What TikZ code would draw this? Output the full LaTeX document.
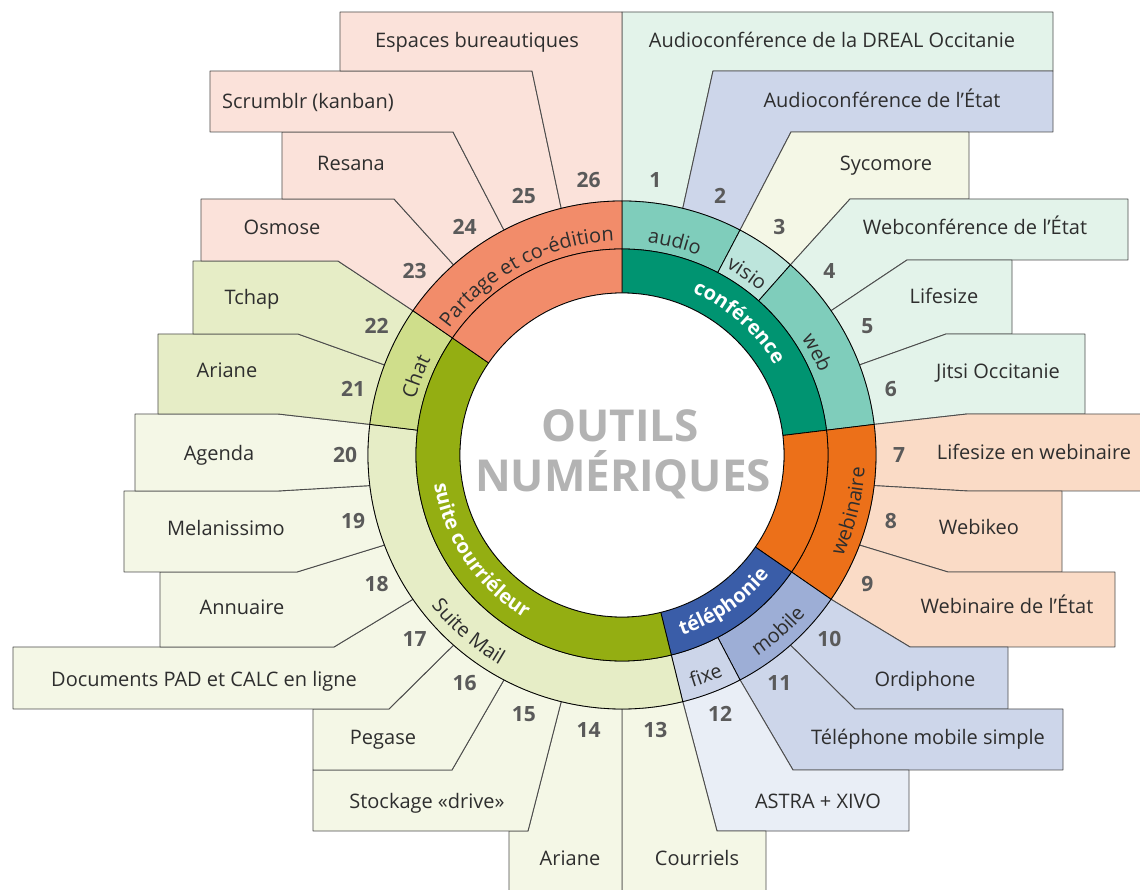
\documentclass[tikz,border=0pt]{standalone}
\usepackage{fontspec}
\setmainfont{Open Sans}
\usetikzlibrary{decorations.text}

% couleurs
\definecolor{txtdark}{HTML}{2E2E2E}
\definecolor{numgray}{HTML}{5A5A5A}
\definecolor{titlegray}{HTML}{B3B3B3}
\definecolor{mintbox}{HTML}{E3F3EA}
\definecolor{lavbox}{HTML}{CDD6EA}
\definecolor{creambox}{HTML}{F4F7E6}
\definecolor{peachbox}{HTML}{FADBC6}
\definecolor{palebluebox}{HTML}{E9EEF6}
\definecolor{greenbox}{HTML}{E6EDC6}
\definecolor{pinkbox}{HTML}{FBE2DA}
\definecolor{audiocol}{HTML}{7FCDBB}
\definecolor{visiocol}{HTML}{BDE5DC}
\definecolor{confcol}{HTML}{009471}
\definecolor{webinairecol}{HTML}{EC7019}
\definecolor{telcol}{HTML}{3A5DA8}
\definecolor{mobilecol}{HTML}{9DAED6}
\definecolor{fixecol}{HTML}{CCD5E9}
\definecolor{mailcol}{HTML}{E6EDC6}
\definecolor{chatcol}{HTML}{CFDE8B}
\definecolor{courrcol}{HTML}{94AE12}
\definecolor{partagecol}{HTML}{F28C6A}

\tikzset{
  item/.style={draw=black!70, line width=0.9pt, line join=round},
  ring/.style={draw=black, line width=0.8pt},
  itemlabel/.style={font=\fontsize{20}{23}\selectfont, text=txtdark, anchor=base},
  itemnum/.style={font=\fontsize{21}{24}\selectfont\bfseries, text=numgray},
}

% part d'anneau : rayon int, rayon ext, de, a, couleur
\newcommand{\ringpart}[5]{%
  \filldraw[ring, fill=#5] ({#3}:#1) arc[start angle=#3, end angle=#4, radius=#1]
    -- ({#4}:#2) arc[start angle=#4, end angle=#3, radius=#2] -- cycle;}
% texte courbe : rayon, de, a, format, texte
\newcommand{\ringtext}[5]{%
  \path[decorate, decoration={text along path, text align=center, text={|#4|#5}}]
    ({#2}:#1) arc[start angle=#2, end angle=#3, radius=#1];}
\newcommand{\outerfmt}{\fontsize{20}{20}\selectfont\color{txtdark}}
\newcommand{\innerfmt}{\fontsize{20}{20}\selectfont\bfseries\color{white}}

\begin{document}
\begin{tikzpicture}[x=1pt, y=1pt]
\useasboundingbox (-622,-435) rectangle (518,455);
\clip (-622,-435) rectangle (518,455);

% cases des outils
\foreach \k/\ax/\ay/\bx/\by/\ox/\col in {
  1/0/443/91/384/431/mintbox, 2/91/384/169/323/431/lavbox,
  3/169/323/228/256/347/creambox, 4/228/256/285/195/506/mintbox,
  5/285/195/324/121/390/mintbox, 6/324/121/345/41/463/mintbox,
  7/345/41/346/-36/522/peachbox, 8/346/-36/326/-117/440/peachbox,
  9/326/-117/288/-192/493/peachbox, 10/288/-192/233/-254/386/lavbox,
  11/233/-254/171/-315/441/lavbox, 12/171/-315/95/-376/287/palebluebox,
  13/95/-376/0/-440/144/creambox, 14/0/-440/-94/-376/-113/creambox,
  15/-94/-376/-170/-315/-309/creambox, 16/-170/-315/-233/-254/-309/creambox,
  17/-233/-254/-288/-192/-609/creambox, 18/-288/-192/-325/-117/-462/creambox,
  19/-325/-117/-344/-36/-498/creambox, 20/-344/-36/-344/41/-487/creambox,
  21/-344/41/-324/121/-464/greenbox, 22/-324/121/-284/194/-429/greenbox,
  23/-284/194/-228/256/-421/pinkbox, 24/-228/256/-169/323/-340/pinkbox,
  25/-169/323/-90/384/-412/pinkbox, 26/-90/384/0/443/-282/pinkbox}
{
  \pgfmathsetmacro\ta{90-(\k-1)*360/26}
  \pgfmathsetmacro\tb{90-\k*360/26}
  \filldraw[item, fill=\col] (\ta:254) -- (\ax,\ay) -- (\ox,\ay) -- (\ox,\by)
    -- (\bx,\by) -- (\tb:254) arc[start angle=\tb, end angle=\ta, radius=254] -- cycle;
}

% anneau exterieur
\ringpart{206}{254}{90}{62.3077}{audiocol}
\ringpart{206}{254}{62.3077}{48.4615}{visiocol}
\ringpart{206}{254}{48.4615}{6.9231}{audiocol}
\ringpart{206}{254}{6.9231}{-34.6154}{webinairecol}
\ringpart{206}{254}{-34.6154}{-62.3077}{mobilecol}
\ringpart{206}{254}{-62.3077}{-76.1538}{fixecol}
\ringpart{206}{254}{-76.1538}{-186.9231}{mailcol}
\ringpart{206}{254}{-186.9231}{-214.6154}{chatcol}
\ringpart{206}{254}{-214.6154}{-270}{partagecol}

% anneau interieur
\ringpart{162}{206}{90}{6.9231}{confcol}
\ringpart{162}{206}{6.9231}{-34.6154}{webinairecol}
\ringpart{162}{206}{-34.6154}{-76.1538}{telcol}
\ringpart{162}{206}{-76.1538}{-214.6154}{courrcol}
\ringpart{162}{206}{-214.6154}{-270}{partagecol}
\filldraw[ring, fill=white] (0,0) circle[radius=162];

% textes courbes
\ringtext{214}{106.15}{46.15}{\outerfmt}{audio}
\ringtext{214}{85.4}{25.4}{\outerfmt}{visio}
\ringtext{214}{57.7}{-2.3}{\outerfmt}{web}
\ringtext{243}{-48.85}{21.15}{\outerfmt}{webinaire}
\ringtext{243}{-78.5}{-18.5}{\outerfmt}{mobile}
\ringtext{243}{-99.2}{-39.2}{\outerfmt}{fixe}
\ringtext{243}{-171}{-91}{\outerfmt}{Suite Mail}
\ringtext{214}{189.2}{129.2}{\outerfmt}{Chat}
\ringtext{214}{158}{78}{\outerfmt}{Partage et co-édition}
\ringtext{177}{98.5}{-1.5}{\innerfmt}{conférence}
\ringtext{190}{-95.4}{-15.4}{\innerfmt}{téléphonie}
\ringtext{190}{-196}{-96}{\innerfmt}{suite courriéleur}

% titre
\node[font=\fontsize{44}{50}\selectfont\bfseries, text=titlegray, anchor=base] (titre1) at (-2,13) {OUTILS};
\node[font=\fontsize{44}{50}\selectfont\bfseries, text=titlegray, anchor=base] (titre2) at (1,-37) {NUMÉRIQUES};

% noms des outils
\foreach \k/\lx/\ly/\txt in {
  1/210/407/Audioconférence de la DREAL Occitanie, 2/260/347/Audioconférence de l’État,
  3/264/284/Sycomore, 4/353/220/Webconférence de l’État, 5/322/151/Lifesize,
  6/376/76/Jitsi Occitanie, 7/412/-5/Lifesize en webinaire, 8/357/-80/Webikeo,
  9/385/-159/Webinaire de l’État, 10/303/-232/Ordiphone,
  11/306/-290/Téléphone mobile simple, 12/196/-353/ASTRA + XIVO,
  13/75/-410/Courriels, 14/-52/-410/Ariane, 15/-195/-353/Stockage «drive»,
  16/-239/-290/Pegase, 17/-418/-232/Documents PAD et CALC en ligne,
  18/-380/-160/Annuaire, 19/-396/-81/Melanissimo, 20/-403/-6/Agenda,
  21/-395/77/Ariane, 22/-370/150/Tchap, 23/-340/220/Osmose, 24/-271/284/Resana,
  25/-314/346/Scrumblr (kanban), 26/-145/407/Espaces bureautiques}
{
  \node[itemlabel] (lab\k) at (\lx,\ly) {\txt};
}

% numeros
\foreach \k in {1,...,26}
  \node[itemnum] (num\k) at ({90-(\k-0.5)*360/26}:277) {\k};
\end{tikzpicture}
\end{document}
